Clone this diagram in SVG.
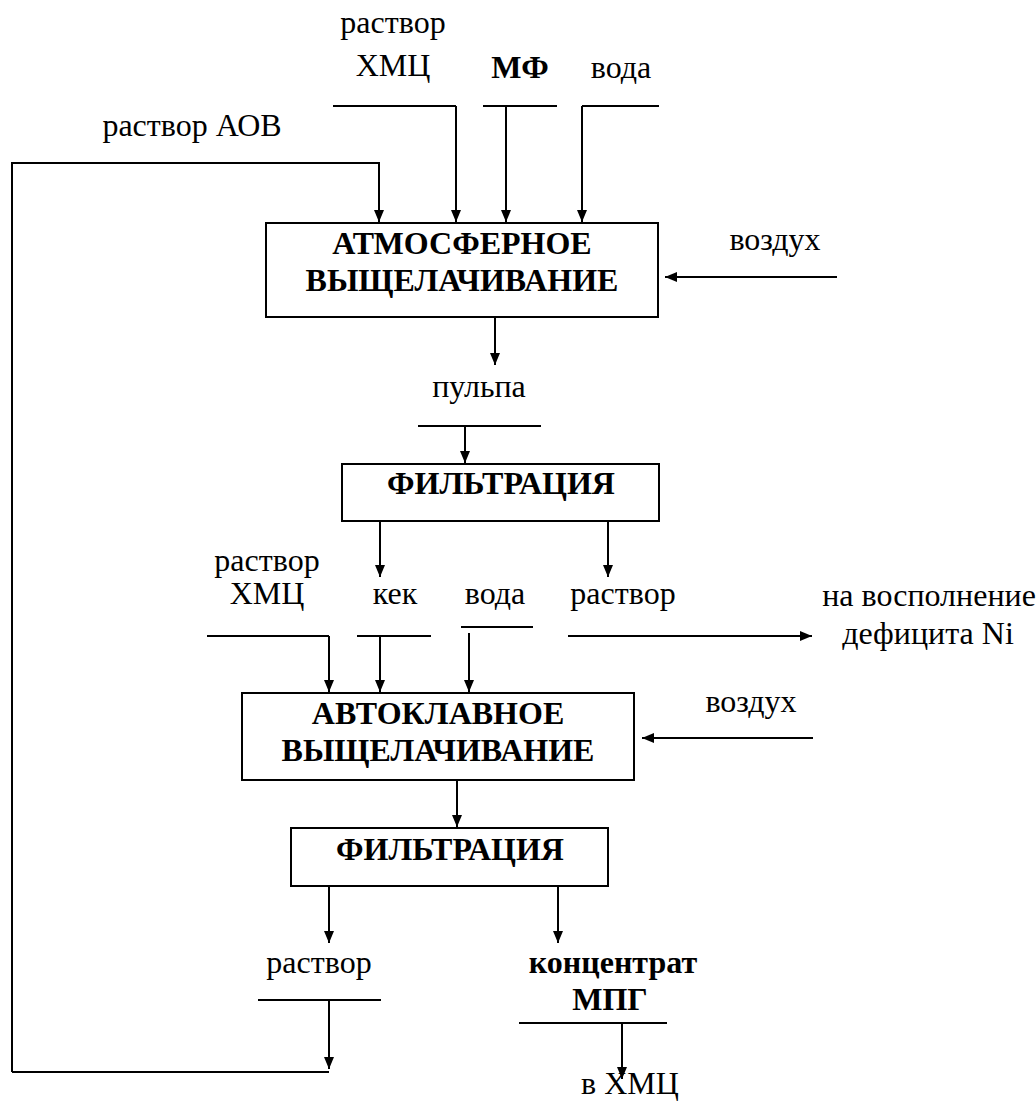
<svg xmlns="http://www.w3.org/2000/svg" width="1036" height="1103" viewBox="0 0 1036 1103">
<style>
.box{fill:#fff;stroke:#000;stroke-width:2}
.ln{fill:none;stroke:#000;stroke-width:2}
.ar{fill:none;stroke:#000;stroke-width:2;marker-end:url(#ah)}
</style>
<defs>
<marker id="ah" markerUnits="userSpaceOnUse" markerWidth="12" markerHeight="10" refX="12" refY="5" orient="auto">
<path d="M0,0 L12,5 L0,10 z" fill="#000"/>
</marker>
</defs>
<g id="connectors">
<path class="ln" d="M333,106 H456"/>
<path class="ar" d="M456,106 V222"/>
<path class="ln" d="M483,106 H557"/>
<path class="ar" d="M506,106 V222"/>
<path class="ln" d="M582,106 H659"/>
<path class="ar" d="M582,106 V222"/>
<path class="ar" d="M12,1072 V163 H379 V222"/>
<path class="ar" d="M837,277 H665"/>
<path class="ar" d="M495,318 V365"/>
<path class="ln" d="M418,426 H541"/>
<path class="ar" d="M465,426 V463"/>
<path class="ar" d="M380,521 V577"/>
<path class="ar" d="M608,521 V577"/>
<path class="ln" d="M207,636 H329"/>
<path class="ar" d="M329,636 V692"/>
<path class="ln" d="M357,636 H431"/>
<path class="ar" d="M380,636 V692"/>
<path class="ln" d="M461,627 H533"/>
<path class="ar" d="M469,633 V692"/>
<path class="ar" d="M568,636 H812"/>
<path class="ar" d="M813,738 H642"/>
<path class="ar" d="M457,780 V827"/>
<path class="ar" d="M329,886 V943"/>
<path class="ar" d="M558,886 V943"/>
<path class="ln" d="M258,1000 H381"/>
<path class="ar" d="M329,1000 V1069"/>
<path class="ln" d="M12,1072 H329"/>
<path class="ln" d="M519,1023 H667"/>
<path class="ar" d="M622,1023 V1079"/>
</g>
<g id="node-atm" font-family="Liberation Serif" font-size="32" font-weight="bold" text-anchor="middle">
<rect class="box" x="266" y="223" width="392" height="94"/>
<text x="462" y="254">АТМОСФЕРНОЕ</text>
<text x="462" y="291">ВЫЩЕЛАЧИВАНИЕ</text>
</g>
<g id="node-filt1" font-family="Liberation Serif" font-size="32" font-weight="bold" text-anchor="middle">
<rect class="box" x="342" y="464" width="317" height="57"/>
<text x="501" y="494">ФИЛЬТРАЦИЯ</text>
</g>
<g id="node-auto" font-family="Liberation Serif" font-size="32" font-weight="bold" text-anchor="middle">
<rect class="box" x="242" y="693" width="392" height="87"/>
<text x="438" y="724">АВТОКЛАВНОЕ</text>
<text x="438" y="761">ВЫЩЕЛАЧИВАНИЕ</text>
</g>
<g id="node-filt2" font-family="Liberation Serif" font-size="32" font-weight="bold" text-anchor="middle">
<rect class="box" x="291" y="828" width="317" height="58"/>
<text x="450" y="860">ФИЛЬТРАЦИЯ</text>
</g>
<g id="labels" font-family="Liberation Serif" font-size="32" text-anchor="middle">
<text x="393" y="33">раствор</text>
<text x="393" y="76">ХМЦ</text>
<text font-weight="bold" x="520" y="78">МФ</text>
<text x="621" y="78">вода</text>
<text x="192" y="136">раствор АОВ</text>
<text x="775" y="250">воздух</text>
<text x="479" y="397">пульпа</text>
<text x="267" y="571">раствор</text>
<text x="267" y="604">ХМЦ</text>
<text x="395" y="604">кек</text>
<text x="495" y="604">вода</text>
<text x="623" y="604">раствор</text>
<text x="929" y="606">на восполнение</text>
<text x="928" y="644">дефицита Ni</text>
<text x="751" y="712">воздух</text>
<text x="319" y="973">раствор</text>
<text font-weight="bold" x="613" y="973">концентрат</text>
<text font-weight="bold" x="610" y="1010">МПГ</text>
<text x="630" y="1094">в ХМЦ</text>
</g>
</svg>
